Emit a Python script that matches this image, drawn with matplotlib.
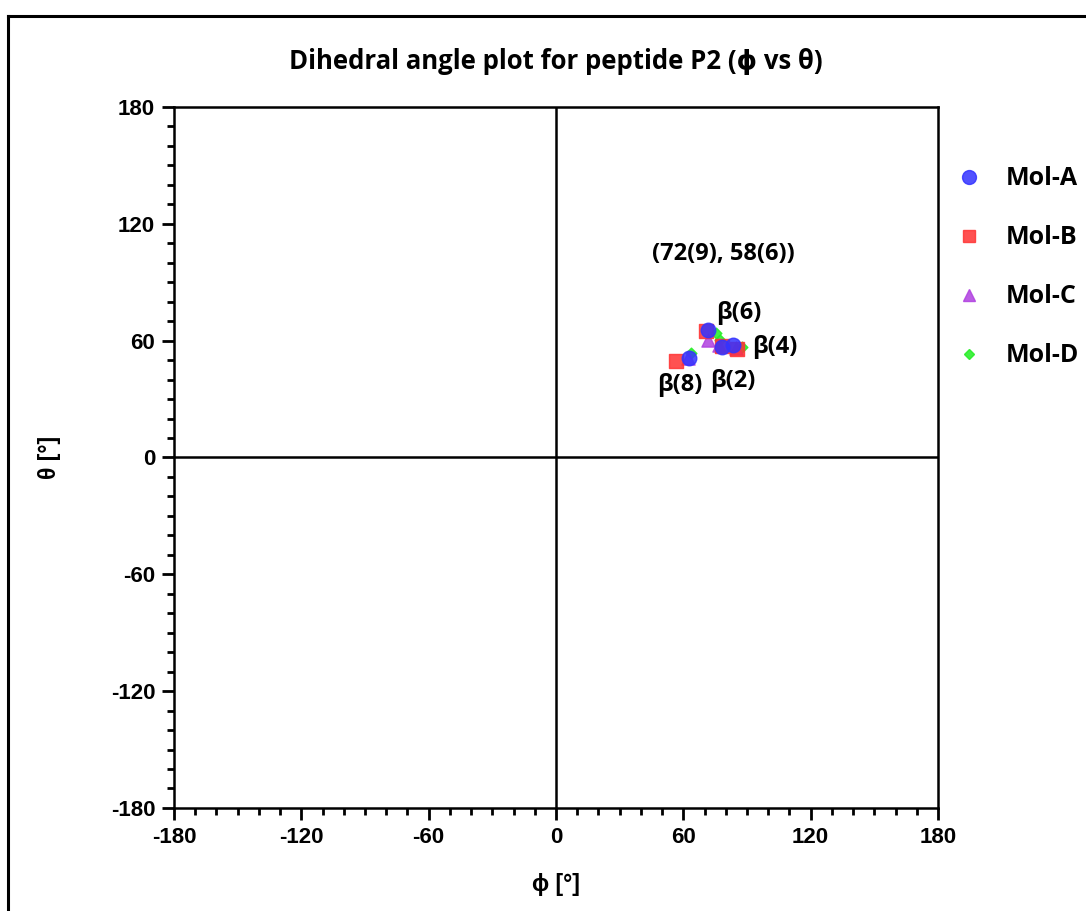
import matplotlib.pyplot as plt
from matplotlib.lines import Line2D
from matplotlib.ticker import MultipleLocator

# residues in order: beta(2), beta(4), beta(6), beta(8)
phi_a = [78.2, 83.4, 71.6, 62.7]
theta_a = [56.8, 57.8, 65.5, 51.1]
phi_b = [78.0, 85.3, 70.7, 56.6]
theta_b = [57.0, 55.7, 65.0, 49.6]
phi_c = [77.0, 85.0, 71.6, 62.0]
theta_c = [58.0, 56.0, 60.3, 51.0]
phi_d = [77.3, 87.6, 75.4, 63.6]
theta_d = [60.3, 56.8, 64.0, 53.7]

labels = ['β(2)', 'β(4)', 'β(6)', 'β(8)']
label_pos = [(83.4, 39.3), (103.2, 56.8), (86.2, 74.2), (58.4, 37.2)]
ticks = [-180, -120, -60, 0, 60, 120, 180]

plt.rcParams['font.family'] = ['Liberation Sans', 'DejaVu Sans']
plt.rcParams['axes.unicode_minus'] = False
fig = plt.figure(figsize=(10.86, 9.11), dpi=100)
ax = fig.add_axes([0.1602, 0.1131, 0.7035, 0.7695])

ax.axhline(0, color='black', lw=1.8, zorder=1)
ax.axvline(0, color='black', lw=1.8, zorder=1)

ax.scatter(phi_d, theta_d, marker='D', s=30, color='#22ee22', alpha=0.85, zorder=3, label='Mol-D')
ax.scatter(phi_c, theta_c, marker='^', s=90, color='#b040e0', alpha=0.85, zorder=4, label='Mol-C')
ax.scatter(phi_b, theta_b, marker='s', s=100, color='#ff3333', alpha=0.85, zorder=5, label='Mol-B')
ax.scatter(phi_a, theta_a, marker='o', s=110, color='#3333ff', alpha=0.85, zorder=6, label='Mol-A')

for lab, (x, y) in zip(labels, label_pos):
    ax.text(x, y, lab, ha='center', va='center', fontsize=17, fontweight='bold',
            family=['Open Sans', 'DejaVu Sans'])
ax.text(78.7, 104.5, '(72(9), 58(6))', ha='center', va='center', fontsize=17,
        fontweight='bold', family=['Open Sans', 'DejaVu Sans'])

ax.set_xlim(-180, 180)
ax.set_ylim(-180, 180)
ax.set_xticks(ticks)
ax.set_yticks(ticks)
ax.xaxis.set_minor_locator(MultipleLocator(10))
ax.yaxis.set_minor_locator(MultipleLocator(10))
ax.tick_params(which='major', length=8.5, width=2, labelsize=16, pad=5)
ax.tick_params(which='minor', length=5, width=2)
for t in ax.get_xticklabels() + ax.get_yticklabels():
    t.set_fontweight('bold')
for s in ax.spines.values():
    s.set_linewidth(1.8)

ax.set_xlabel('ϕ [°]', fontsize=16.5, fontweight='bold', labelpad=18)
ax.set_ylabel('θ [°]', fontsize=16.5, fontweight='bold', labelpad=36)
ax.set_title('Dihedral angle plot for peptide P2 (ϕ vs θ)', fontsize=18.5,
             fontweight='bold', family=['Open Sans', 'DejaVu Sans'], pad=27)

handles = [
    Line2D([], [], ls='', marker='o', ms=10, color='#3333ff', alpha=0.85),
    Line2D([], [], ls='', marker='s', ms=9, color='#ff3333', alpha=0.85),
    Line2D([], [], ls='', marker='^', ms=9, color='#b040e0', alpha=0.85),
    Line2D([], [], ls='', marker='D', ms=5.5, color='#22ee22', alpha=0.85),
]
leg = fig.legend(handles, ['Mol-A', 'Mol-B', 'Mol-C', 'Mol-D'], loc='upper left',
                 bbox_to_anchor=(0.8596, 0.842), frameon=False, labelspacing=1.36,
                 handlelength=1.0, handletextpad=1.0,
                 prop={'family': ['Open Sans', 'DejaVu Sans'], 'weight': 'bold', 'size': 18})

# outer frame
fig.add_artist(Line2D([8 / 1086, 8 / 1086], [0, 1 - 16 / 911], color='black', lw=2.2))
fig.add_artist(Line2D([8 / 1086, 1], [1 - 16 / 911, 1 - 16 / 911], color='black', lw=2.2))

fig.savefig('out.png', dpi=100)
